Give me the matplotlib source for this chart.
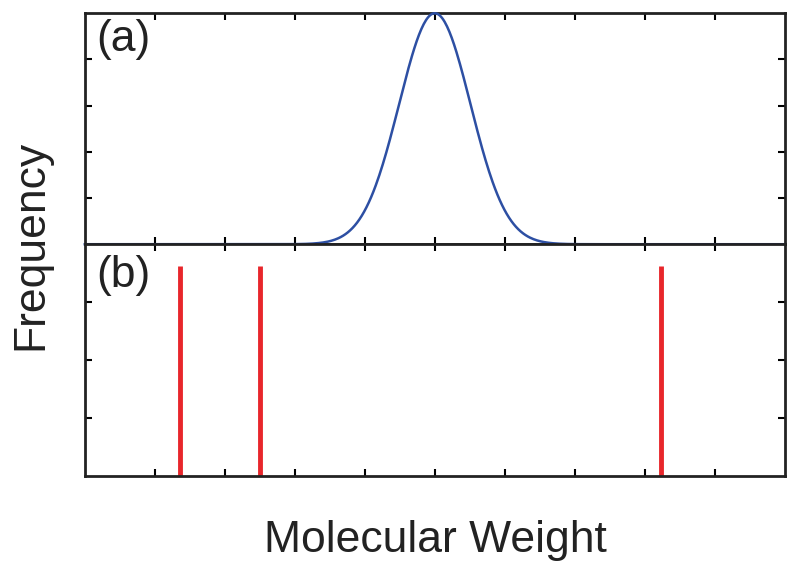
import numpy as np
import matplotlib.pyplot as plt

plt.rcParams['font.family'] = ['Liberation Sans', 'DejaVu Sans']

# top panel: molecular weight distribution
mw_center = 5.0
mw_sigma = 0.51
# bottom panel: discrete molecular weights
peak_positions = [1.36, 2.5, 8.23]
peak_heights = [0.905, 0.905, 0.905]
panel_labels = ['(a)', '(b)']

def main():
    fig = plt.figure(figsize=(8, 5.76), dpi=100)
    ax1 = fig.add_axes([0.106, 0.576, 0.875, 0.401])
    ax2 = fig.add_axes([0.106, 0.174, 0.875, 0.402])

    X = np.linspace(0, 10, 600)
    Y = np.exp(-0.5*((X - mw_center)/mw_sigma)**2)
    ax1.plot(X, Y, color='#2d4fa3', lw=1.8, clip_on=False, zorder=5)
    ax1.set_ylim(0, 1)
    ax1.set_yticks([0.2, 0.4, 0.6, 0.8])

    ax2.vlines(peak_positions, 0, peak_heights, color='#e8262b', lw=3.5)
    ax2.set_ylim(0, 1)
    ax2.set_yticks([0.25, 0.5, 0.75])

    for ax, lab, ly in zip([ax1, ax2], panel_labels, [0.975, 0.955]):
        ax.set_xlim(0, 10)
        ax.set_xticks(np.arange(1, 10))
        ax.tick_params(direction='in', length=5, width=1.5, top=True, right=True,
                       labelbottom=False, labelleft=False)
        for s in ax.spines.values():
            s.set_linewidth(2)
            s.set_color('#222222')
        ax.text(0.016, ly, lab, transform=ax.transAxes, fontsize=32,
                va='top', ha='left', color='#222222')

    fig.text(0.038, 0.575, 'Frequency', rotation=90, fontsize=32,
             ha='center', va='center', color='#222222')
    fig.text(0.544, 0.062, 'Molecular Weight', fontsize=32,
             ha='center', va='center', color='#222222')

    fig.savefig('out.png', dpi=100)

main()
